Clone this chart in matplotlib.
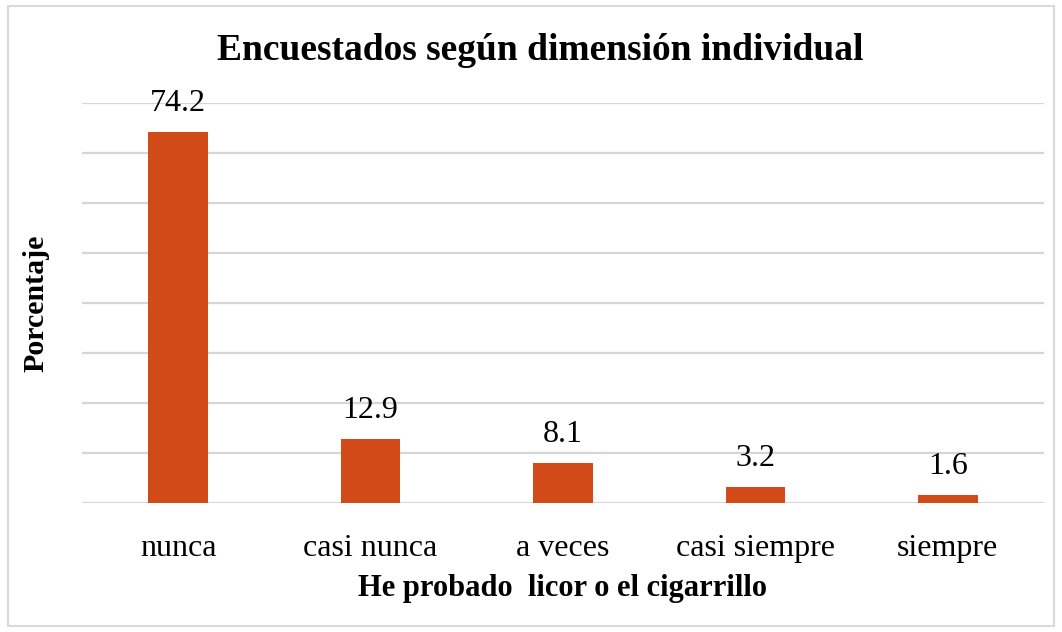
import matplotlib.pyplot as plt
from matplotlib.patches import Rectangle

categorias = ["nunca", "casi nunca", "a veces", "casi siempre", "siempre"]
porcentajes = [74.2, 12.9, 8.1, 3.2, 1.6]
etiquetas = ["74.2", "12.9", "8.1", "3.2", "1.6"]

plt.rcParams['font.family'] = ['Liberation Serif', 'DejaVu Serif']

fig = plt.figure(figsize=(10.62, 6.32), dpi=100)
ax = fig.add_axes([82 / 1062, 1 - 503 / 632, (1044 - 82) / 1062, 400 / 632])

# marco exterior gris claro
fig.patches.append(Rectangle((8 / 1062, 6 / 632), 1046 / 1062, 620 / 632,
                             transform=fig.transFigure, fill=False,
                             edgecolor='#D9D9D9', linewidth=1.5))

x = range(len(categorias))
barras = ax.bar(x, porcentajes, width=0.31, color='#D24A18', zorder=3)

for b, txt in zip(barras, etiquetas):
    ax.annotate(txt, (b.get_x() + b.get_width() / 2, b.get_height()),
                xytext=(0, 10), textcoords='offset points',
                ha='center', va='bottom', fontsize=23)

ax.set_xlim(-0.5, len(categorias) - 0.5)
ax.set_ylim(0, 80)
ax.set_yticks(range(0, 81, 10))
ax.set_yticklabels([])
ax.yaxis.grid(True, color='#D6D6D6', linewidth=1.6, zorder=0)
ax.tick_params(axis='both', length=0)
ax.tick_params(axis='x', pad=22, labelsize=23)
ax.set_xticks(list(x))
ax.set_xticklabels(categorias)
for s in ax.spines.values():
    s.set_visible(False)

ax.set_xlabel("He probado  licor o el cigarrillo", fontsize=22,
              fontweight='bold', labelpad=8)
ax.set_ylabel("Porcentaje", fontsize=21.5, fontweight='bold', labelpad=20)
fig.text(540 / 1062, 1 - 50 / 632, "Encuestados según dimensión individual",
         ha='center', va='center', fontsize=27, fontweight='bold')

fig.savefig("out.png", dpi=100)
